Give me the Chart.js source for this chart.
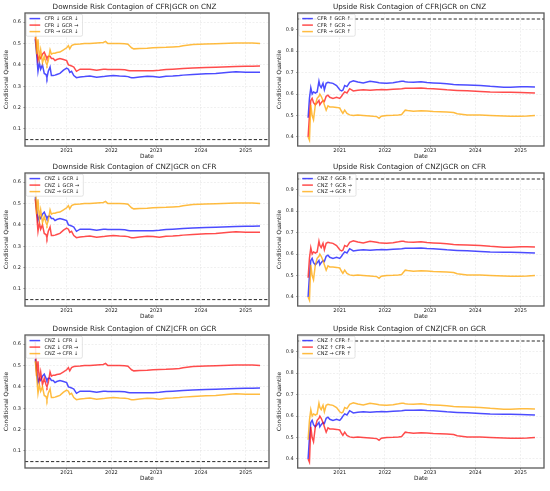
<!DOCTYPE html>
<html>
<head>
<meta charset="utf-8">
<script src="https://cdn.jsdelivr.net/npm/chart.js@4.4.1/dist/chart.umd.min.js"></script>
<style>
  body { margin: 0; background: #fff; }
  #wrap { position: relative; width: 550px; height: 491px; }
  canvas { position: absolute; }
</style>
</head>
<body>
<div id="wrap"></div>
<script>
// sample dates as decimal years
const dates = [2020.30, 2020.33, 2020.36, 2020.39, 2020.42, 2020.46, 2020.50, 2020.54, 2020.56, 2020.59,
  2020.63, 2020.66, 2020.70, 2020.74, 2020.78, 2020.85, 2020.93, 2021.00, 2021.04, 2021.07,
  2021.11, 2021.16, 2021.22, 2021.30, 2021.40, 2021.52, 2021.67, 2021.82, 2021.87, 2021.92,
  2022.04, 2022.18, 2022.30, 2022.37, 2022.41, 2022.45, 2022.50, 2022.63, 2022.80, 2022.93,
  2023.07, 2023.22, 2023.37, 2023.52, 2023.60, 2023.82, 2024.11, 2024.33, 2024.63, 2024.78,
  2025.00, 2025.15, 2025.32];

// downside curves (low / mid / high)
const downLow = [0.52, 0.45, 0.37, 0.41, 0.38, 0.40, 0.36, 0.355, 0.34, 0.37,
  0.39, 0.35, 0.35, 0.352, 0.355, 0.36, 0.375, 0.385, 0.38, 0.365,
  0.37, 0.35, 0.34, 0.343, 0.345, 0.348, 0.342, 0.345, 0.347, 0.348,
  0.35, 0.348, 0.347, 0.345, 0.342, 0.34, 0.34, 0.343, 0.347, 0.345,
  0.342, 0.347, 0.348, 0.35, 0.352, 0.355, 0.358, 0.36, 0.365, 0.368,
  0.366, 0.365, 0.365];
const downMid = [0.53, 0.47, 0.42, 0.44, 0.43, 0.45, 0.46, 0.44, 0.43, 0.44,
  0.44, 0.43, 0.43, 0.42, 0.425, 0.43, 0.425, 0.42, 0.40, 0.398,
  0.395, 0.39, 0.37, 0.38, 0.38, 0.38, 0.375, 0.38, 0.38, 0.378,
  0.378, 0.378, 0.377, 0.374, 0.372, 0.372, 0.372, 0.372, 0.373, 0.373,
  0.375, 0.378, 0.38, 0.382, 0.383, 0.385, 0.388, 0.389, 0.391, 0.392,
  0.393, 0.394, 0.395];
const downHigh = [0.61, 0.45, 0.52, 0.43, 0.47, 0.41, 0.44, 0.41, 0.40, 0.42,
  0.47, 0.45, 0.455, 0.455, 0.458, 0.46, 0.47, 0.48, 0.49, 0.475,
  0.49, 0.495, 0.497, 0.498, 0.50, 0.50, 0.503, 0.505, 0.51, 0.50,
  0.50, 0.50, 0.499, 0.497, 0.488, 0.48, 0.475, 0.477, 0.478, 0.48,
  0.481, 0.482, 0.484, 0.486, 0.49, 0.495, 0.498, 0.499, 0.501, 0.502,
  0.503, 0.502, 0.50];

// upside curves (high / mid / low)
const upHigh = [0.49, 0.58, 0.63, 0.60, 0.61, 0.605, 0.61, 0.66, 0.64, 0.63,
  0.65, 0.62, 0.65, 0.655, 0.653, 0.65, 0.64, 0.62, 0.615, 0.618,
  0.64, 0.635, 0.655, 0.662, 0.656, 0.652, 0.66, 0.655, 0.653, 0.652,
  0.65, 0.653, 0.657, 0.66, 0.66, 0.658, 0.656, 0.655, 0.657, 0.654,
  0.652, 0.65, 0.648, 0.645, 0.644, 0.642, 0.64, 0.636, 0.632, 0.632,
  0.634, 0.634, 0.633];
const upMid = [0.40, 0.50, 0.57, 0.58, 0.56, 0.55, 0.56, 0.57, 0.55, 0.56,
  0.57, 0.565, 0.59, 0.595, 0.585, 0.58, 0.585, 0.58, 0.59, 0.60,
  0.61, 0.605, 0.625, 0.615, 0.618, 0.62, 0.618, 0.62, 0.62, 0.621,
  0.62, 0.622, 0.624, 0.625, 0.626, 0.627, 0.627, 0.627, 0.628, 0.626,
  0.625, 0.623, 0.62, 0.618, 0.617, 0.615, 0.612, 0.61, 0.609, 0.608,
  0.607, 0.606, 0.605];
const upLow = [0.40, 0.385, 0.55, 0.50, 0.48, 0.55, 0.58, 0.59, 0.60, 0.59,
  0.57, 0.55, 0.525, 0.545, 0.54, 0.54, 0.538, 0.535, 0.52, 0.51,
  0.525, 0.51, 0.503, 0.50, 0.502, 0.50, 0.498, 0.495, 0.487, 0.497,
  0.50, 0.501, 0.503, 0.505, 0.515, 0.525, 0.523, 0.52, 0.522, 0.521,
  0.519, 0.518, 0.516, 0.514, 0.508, 0.502, 0.502, 0.50, 0.498, 0.497,
  0.497, 0.498, 0.50];

const xTicks = [2021, 2022, 2023, 2024, 2025];
const downTicks = [0.1, 0.2, 0.3, 0.4, 0.5, 0.6];
const upTicks = [0.4, 0.5, 0.6, 0.7, 0.8, 0.9];
const downRef = 0.05;
const upRef = 0.95;

const titles = [
  'Downside Risk Contagion of CFR|GCR on CNZ',
  'Upside Risk Contagion of CFR|GCR on CNZ',
  'Downside Risk Contagion of CNZ|GCR on CFR',
  'Upside Risk Contagion of CNZ|GCR on CFR',
  'Downside Risk Contagion of CNZ|CFR on GCR',
  'Upside Risk Contagion of CNZ|CFR on GCR'
];
const legends = [
  ['CFR ↓ GCR ↓', 'CFR ↓ GCR →', 'CFR → GCR ↓'],
  ['CFR ↑ GCR ↑', 'CFR ↑ GCR →', 'CFR → GCR ↑'],
  ['CNZ ↓ GCR ↓', 'CNZ ↓ GCR →', 'CNZ → GCR ↓'],
  ['CNZ ↑ GCR ↑', 'CNZ ↑ GCR →', 'CNZ → GCR ↑'],
  ['CNZ ↓ CFR ↓', 'CNZ ↓ CFR →', 'CNZ → CFR ↓'],
  ['CNZ ↑ CFR ↑', 'CNZ ↑ CFR →', 'CNZ → CFR ↑']
];
// blue, red, orange series for each panel
const seriesSets = [
  [downLow, downMid, downHigh],
  [upHigh, upMid, upLow],
  [downMid, downLow, downHigh],
  [upMid, upHigh, upLow],
  [downMid, downHigh, downLow],
  [upMid, upLow, upHigh]
];

const colors = ['rgba(0,0,255,0.7)', 'rgba(255,0,0,0.7)', 'rgba(255,165,0,0.75)'];
const FONT = '"DejaVu Sans", sans-serif';
const X_MIN = 2020.07, X_MAX = 2025.52;

// matplotlib-like legend box + axes frame
const boxLegend = {
  id: 'boxLegend',
  afterDraw(chart) {
    const ctx = chart.ctx, a = chart.chartArea;
    const items = chart.data.datasets.filter(d => d.inLegend);
    ctx.save();
    ctx.font = '5px ' + FONT;
    const tw = Math.max(...items.map(d => ctx.measureText(d.label).width));
    const x0 = a.left + 1.2, y0 = a.top + 1.2;
    const w = tw + 22.5, h = (items.length - 1) * 6.5 + 9;
    ctx.beginPath();
    ctx.roundRect(x0, y0, w, h, 1.5);
    ctx.fillStyle = 'rgba(255,255,255,0.85)';
    ctx.fill();
    ctx.strokeStyle = '#d2d2d2';
    ctx.lineWidth = 0.6;
    ctx.stroke();
    items.forEach((d, i) => {
      const y = y0 + 4.4 + i * 6.5;
      ctx.beginPath();
      ctx.moveTo(x0 + 3.3, y);
      ctx.lineTo(x0 + 14, y);
      ctx.strokeStyle = d.borderColor;
      ctx.lineWidth = 1.5;
      ctx.stroke();
      ctx.fillStyle = '#222';
      ctx.textBaseline = 'middle';
      ctx.fillText(d.label, x0 + 18.3, y + 0.2);
    });
    ctx.strokeStyle = '#5a5a5a';
    ctx.lineWidth = 1.3;
    ctx.strokeRect(a.left, a.top, a.right - a.left, a.bottom - a.top);
    ctx.restore();
  }
};

const wrap = document.getElementById('wrap');
const tops = [0, 160, 322];

titles.forEach((title, p) => {
  const col = p % 2, row = Math.floor(p / 2);
  const isUp = col === 1;
  const canvas = document.createElement('canvas');
  canvas.width = 275;
  canvas.height = 160;
  canvas.style.left = (col * 275) + 'px';
  canvas.style.top = tops[row] + 'px';
  wrap.appendChild(canvas);

  const yTicks = isUp ? upTicks : downTicks;
  const ref = isUp ? upRef : downRef;
  const plotLeft = isUp ? 22.7 : 25;

  const datasets = seriesSets[p].map((vals, i) => ({
    label: legends[p][i],
    inLegend: true,
    data: dates.map((d, k) => ({ x: d, y: vals[k] })),
    borderColor: colors[i],
    borderWidth: 1.5,
    pointRadius: 0,
    tension: 0,
    order: 3 - i
  }));
  datasets.push({
    label: 'ref',
    data: [{ x: X_MIN, y: ref }, { x: X_MAX, y: ref }],
    borderColor: '#111',
    borderWidth: 0.9,
    borderDash: [3.2, 2],
    pointRadius: 0,
    order: 0
  });

  const gridOpts = {
    color: 'rgba(0,0,0,0.10)',
    lineWidth: 0.6,
    tickColor: '#444',
    tickLength: 1.5,
    tickWidth: 0.6,
    tickBorderDash: []
  };

  new Chart(canvas, {
    type: 'line',
    data: { datasets },
    plugins: [boxLegend],
    options: {
      responsive: false,
      animation: false,
      devicePixelRatio: 1,
      layout: { padding: { left: 0, right: 6, top: 0, bottom: 0 } },
      plugins: {
        legend: { display: false },
        tooltip: { enabled: false },
        title: {
          display: true,
          text: title,
          color: '#222',
          font: { family: FONT, size: 7.2, weight: 'normal' },
          padding: { top: 2.6, bottom: 1.76 }
        }
      },
      scales: {
        x: {
          type: 'linear',
          min: X_MIN,
          max: X_MAX,
          afterBuildTicks: s => { s.ticks = xTicks.map(v => ({ value: v })); },
          afterFit: s => { s.height = 160 - 146; },
          ticks: {
            color: '#222',
            font: { family: FONT, size: 5 },
            padding: 0.5,
            maxRotation: 0,
            callback: v => String(v)
          },
          grid: gridOpts,
          border: { display: false, dash: [2, 1.5] },
          title: {
            display: true,
            text: 'Date',
            color: '#222',
            font: { family: FONT, size: 5.8 },
            padding: { top: 0, bottom: 0.5 }
          }
        },
        y: {
          type: 'linear',
          min: isUp ? 0.358 : 0.02,
          max: isUp ? 0.978 : 0.643,
          afterBuildTicks: s => { s.ticks = yTicks.map(v => ({ value: v })); },
          afterFit: s => { s.width = plotLeft; },
          ticks: {
            color: '#222',
            font: { family: FONT, size: 5 },
            padding: 2.5,
            callback: v => v.toFixed(1)
          },
          grid: gridOpts,
          border: { display: false, dash: [2, 1.5] },
          title: {
            display: true,
            text: 'Conditional Quantile',
            color: '#222',
            font: { family: FONT, size: 5.8 },
            padding: { top: isUp ? 1.5 : 3.5, bottom: 0 }
          }
        }
      }
    }
  });
});
</script>
</body>
</html>
